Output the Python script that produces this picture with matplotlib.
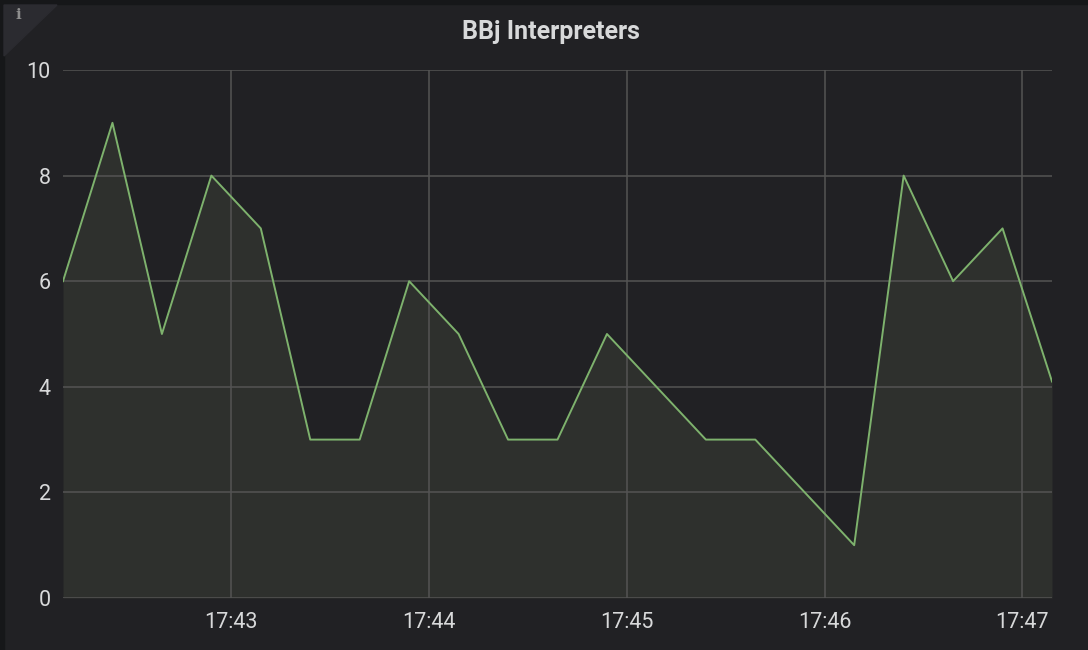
import datetime as dt
import matplotlib
matplotlib.use("Agg")
import matplotlib.pyplot as plt
import matplotlib.dates as mdates
from matplotlib.patches import Polygon, Rectangle

# samples every 15 s
start = dt.datetime(2018, 1, 1, 17, 42, 9)
step_s = 15
values = [6, 9, 5, 8, 7, 3, 3, 6, 5, 3, 3, 5, 4, 3, 3, 2, 1, 8, 6, 7, 4.1]
times = [start + dt.timedelta(seconds=step_s * i) for i in range(len(values))]
tick_times = [dt.datetime(2018, 1, 1, 17, m) for m in range(43, 48)]
y_ticks = [0, 2, 4, 6, 8, 10]
title = "BBj Interpreters"

bg = "#212124"
grid_c = "#545454"
text_c = "#d8d9da"
line_c = "#7eb26d"

plt.rcParams['font.family'] = ['Roboto', 'DejaVu Sans']

fig = plt.figure(figsize=(10.88, 6.5), dpi=100, facecolor=bg)

# panel frame and info corner
fig.patches.append(Rectangle((0, 0.994), 1, 0.006, transform=fig.transFigure,
                             color="#161719", zorder=0))
fig.patches.append(Rectangle((0, 0), 0.0035, 1, transform=fig.transFigure,
                             color="#161719", zorder=0))
fig.patches.append(Polygon([(4 / 1088, 1 - 5 / 650), (57 / 1088, 1 - 5 / 650),
                            (4 / 1088, 1 - 56 / 650)], closed=True,
                           transform=fig.transFigure, color="#2b2b30", zorder=0))
fig.text(18 / 1088, 1 - 15 / 650, "i", color="#8e8e8e", fontsize=11,
         fontweight="bold", family="DejaVu Serif", ha="center", va="center")

ax = fig.add_axes([63 / 1088, 52 / 650, (1052 - 63) / 1088, (598 - 70) / 650])
ax.set_facecolor(bg)

ax.fill_between(times, values, 0, color="#2e302d", zorder=1, linewidth=0)
ax.plot(times, values, color=line_c, linewidth=1.4, zorder=3)

ax.set_xlim(times[0], times[-1])
ax.set_ylim(0, 10)
ax.set_yticks(y_ticks)
ax.set_xticks(tick_times)
ax.xaxis.set_major_formatter(mdates.DateFormatter("%H:%M"))

ax.grid(True, color=grid_c, linewidth=1.1, zorder=2)
for s in ax.spines.values():
    s.set_visible(False)
ax.tick_params(length=0, colors=text_c, labelsize=15.5)
ax.tick_params(axis="y", pad=9)
ax.tick_params(axis="x", pad=10)

fig.text(551 / 1088, 1 - 32 / 650, title, color=text_c, fontsize=18,
         fontweight="bold", ha="center", va="center")

fig.savefig("out.png", dpi=100, facecolor=bg)
